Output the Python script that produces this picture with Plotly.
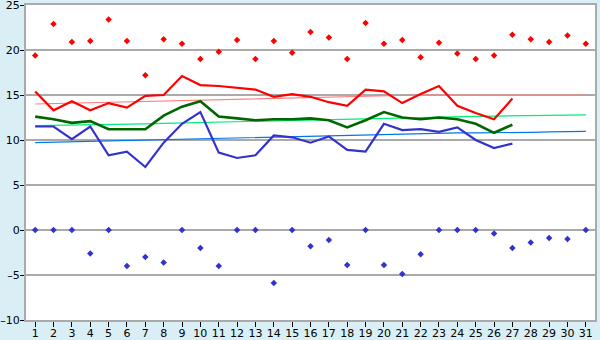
import plotly.graph_objects as go

days = list(range(1, 32))
days_obs = list(range(1, 28))

y_ticks = [-10, -5, 0, 5, 10, 15, 20, 25]
y_labels = ["\u201310", "\u20135", "0", "5", "10", "15", "20", "25"]

max_temp = [19.4, 22.9, 20.9, 21.0, 23.4, 21.0, 17.2, 21.2, 20.7, 19.0,
            19.8, 21.1, 19.0, 21.0, 19.7, 22.0, 21.4, 19.0, 23.0, 20.7,
            21.1, 19.2, 20.8, 19.6, 19.0, 19.4, 21.7, 21.2, 20.9, 21.6, 20.7]
min_temp = [0.0, 0.0, 0.0, -2.6, 0.0, -4.0, -3.0, -3.6, 0.0, -2.0,
            -4.0, 0.0, 0.0, -5.9, 0.0, -1.8, -1.1, -3.9, 0.0, -3.9,
            -4.9, -2.7, 0.0, 0.0, 0.0, -0.4, -2.0, -1.4, -0.9, -1.0, 0.0]

red_line = [15.4, 13.3, 14.3, 13.3, 14.1, 13.6, 14.9, 15.0, 17.1, 16.1,
            16.0, 15.8, 15.6, 14.8, 15.1, 14.8, 14.2, 13.8, 15.6, 15.4,
            14.1, 15.1, 16.0, 13.8, 13.0, 12.3, 14.6]
green_line = [12.6, 12.3, 11.9, 12.1, 11.2, 11.2, 11.2, 12.7, 13.7, 14.3,
              12.6, 12.4, 12.2, 12.3, 12.3, 12.4, 12.2, 11.4, 12.2, 13.1,
              12.5, 12.3, 12.5, 12.3, 11.8, 10.8, 11.7]
blue_line = [11.5, 11.5, 10.1, 11.5, 8.3, 8.7, 7.0, 9.7, 11.8, 13.1,
             8.6, 8.0, 8.3, 10.5, 10.3, 9.7, 10.4, 8.9, 8.7, 11.8,
             11.1, 11.2, 10.9, 11.4, 10.0, 9.1, 9.6]

red_norm = [14.0, 14.05, 14.1, 14.15, 14.2, 14.2, 14.25, 14.3, 14.35, 14.4,
            14.45, 14.5, 14.55, 14.6, 14.65, 14.7, 14.75, 14.8, 14.85, 14.9,
            14.95, 15.0, 15.0, 15.0, 15.0, 15.0, 15.0, 15.0, 15.0, 15.0, 15.0]
green_norm = [11.6, 11.62, 11.65, 11.7, 11.72, 11.75, 11.8, 11.85, 11.9, 11.95,
              12.0, 12.05, 12.1, 12.15, 12.2, 12.25, 12.3, 12.35, 12.4, 12.45,
              12.5, 12.55, 12.58, 12.6, 12.63, 12.66, 12.7, 12.73, 12.76, 12.78, 12.8]
blue_norm = [9.7, 9.75, 9.8, 9.85, 9.9, 9.95, 10.0, 10.0, 10.05, 10.1,
             10.2, 10.25, 10.3, 10.35, 10.4, 10.45, 10.5, 10.5, 10.55, 10.6,
             10.65, 10.7, 10.75, 10.8, 10.8, 10.8, 10.85, 10.85, 10.9, 10.95, 10.95]

fig = go.Figure()

fig.add_trace(go.Scatter(x=days, y=red_norm, mode="lines",
                         line=dict(color="#ff8080", width=1.2)))
fig.add_trace(go.Scatter(x=days, y=green_norm, mode="lines",
                         line=dict(color="#00ee77", width=1.2)))
fig.add_trace(go.Scatter(x=days, y=blue_norm, mode="lines",
                         line=dict(color="#0077ee", width=1.2)))

fig.add_trace(go.Scatter(x=days_obs, y=blue_line, mode="lines",
                         line=dict(color="#3333cc", width=2.2)))
fig.add_trace(go.Scatter(x=days_obs, y=green_line, mode="lines",
                         line=dict(color="#006600", width=2.6)))
fig.add_trace(go.Scatter(x=days_obs, y=red_line, mode="lines",
                         line=dict(color="#ff0000", width=2.2)))

fig.add_trace(go.Scatter(x=days, y=max_temp, mode="markers",
                         marker=dict(symbol="diamond", size=5, color="#ff0000")))
fig.add_trace(go.Scatter(x=days, y=min_temp, mode="markers",
                         marker=dict(symbol="diamond", size=5, color="#3333cc")))

axis_font = dict(family="DejaVu Sans", size=11, color="#000000")

fig.update_layout(
    width=600, height=340,
    margin=dict(l=26, r=5, t=5, b=20),
    paper_bgcolor="#d9eff5",
    plot_bgcolor="#ffffff",
    showlegend=False,
    xaxis=dict(range=[0.5, 31.5], tickmode="array", tickvals=days,
               ticktext=[str(d) for d in days], automargin=False,
               ticklabeloverflow="allow", ticklabelstandoff=-3,
               showgrid=False, zeroline=False,
               showline=True, linecolor="#aaaaaa", linewidth=2, mirror=True,
               ticks="outside", ticklen=5, tickcolor="#000000", tickwidth=1,
               tickfont=axis_font),
    yaxis=dict(range=[-10, 25], tickmode="array", automargin=False,
               ticklabeloverflow="allow", ticklabelstandoff=-2,
               tickvals=y_ticks, ticktext=y_labels,
               showgrid=True, gridcolor="#aaaaaa", gridwidth=1.5,
               zeroline=False,
               showline=True, linecolor="#aaaaaa", linewidth=2, mirror=True,
               ticks="outside", ticklen=4, tickcolor="#000000", tickwidth=1,
               tickfont=axis_font),
)

fig.write_html("out.html")
